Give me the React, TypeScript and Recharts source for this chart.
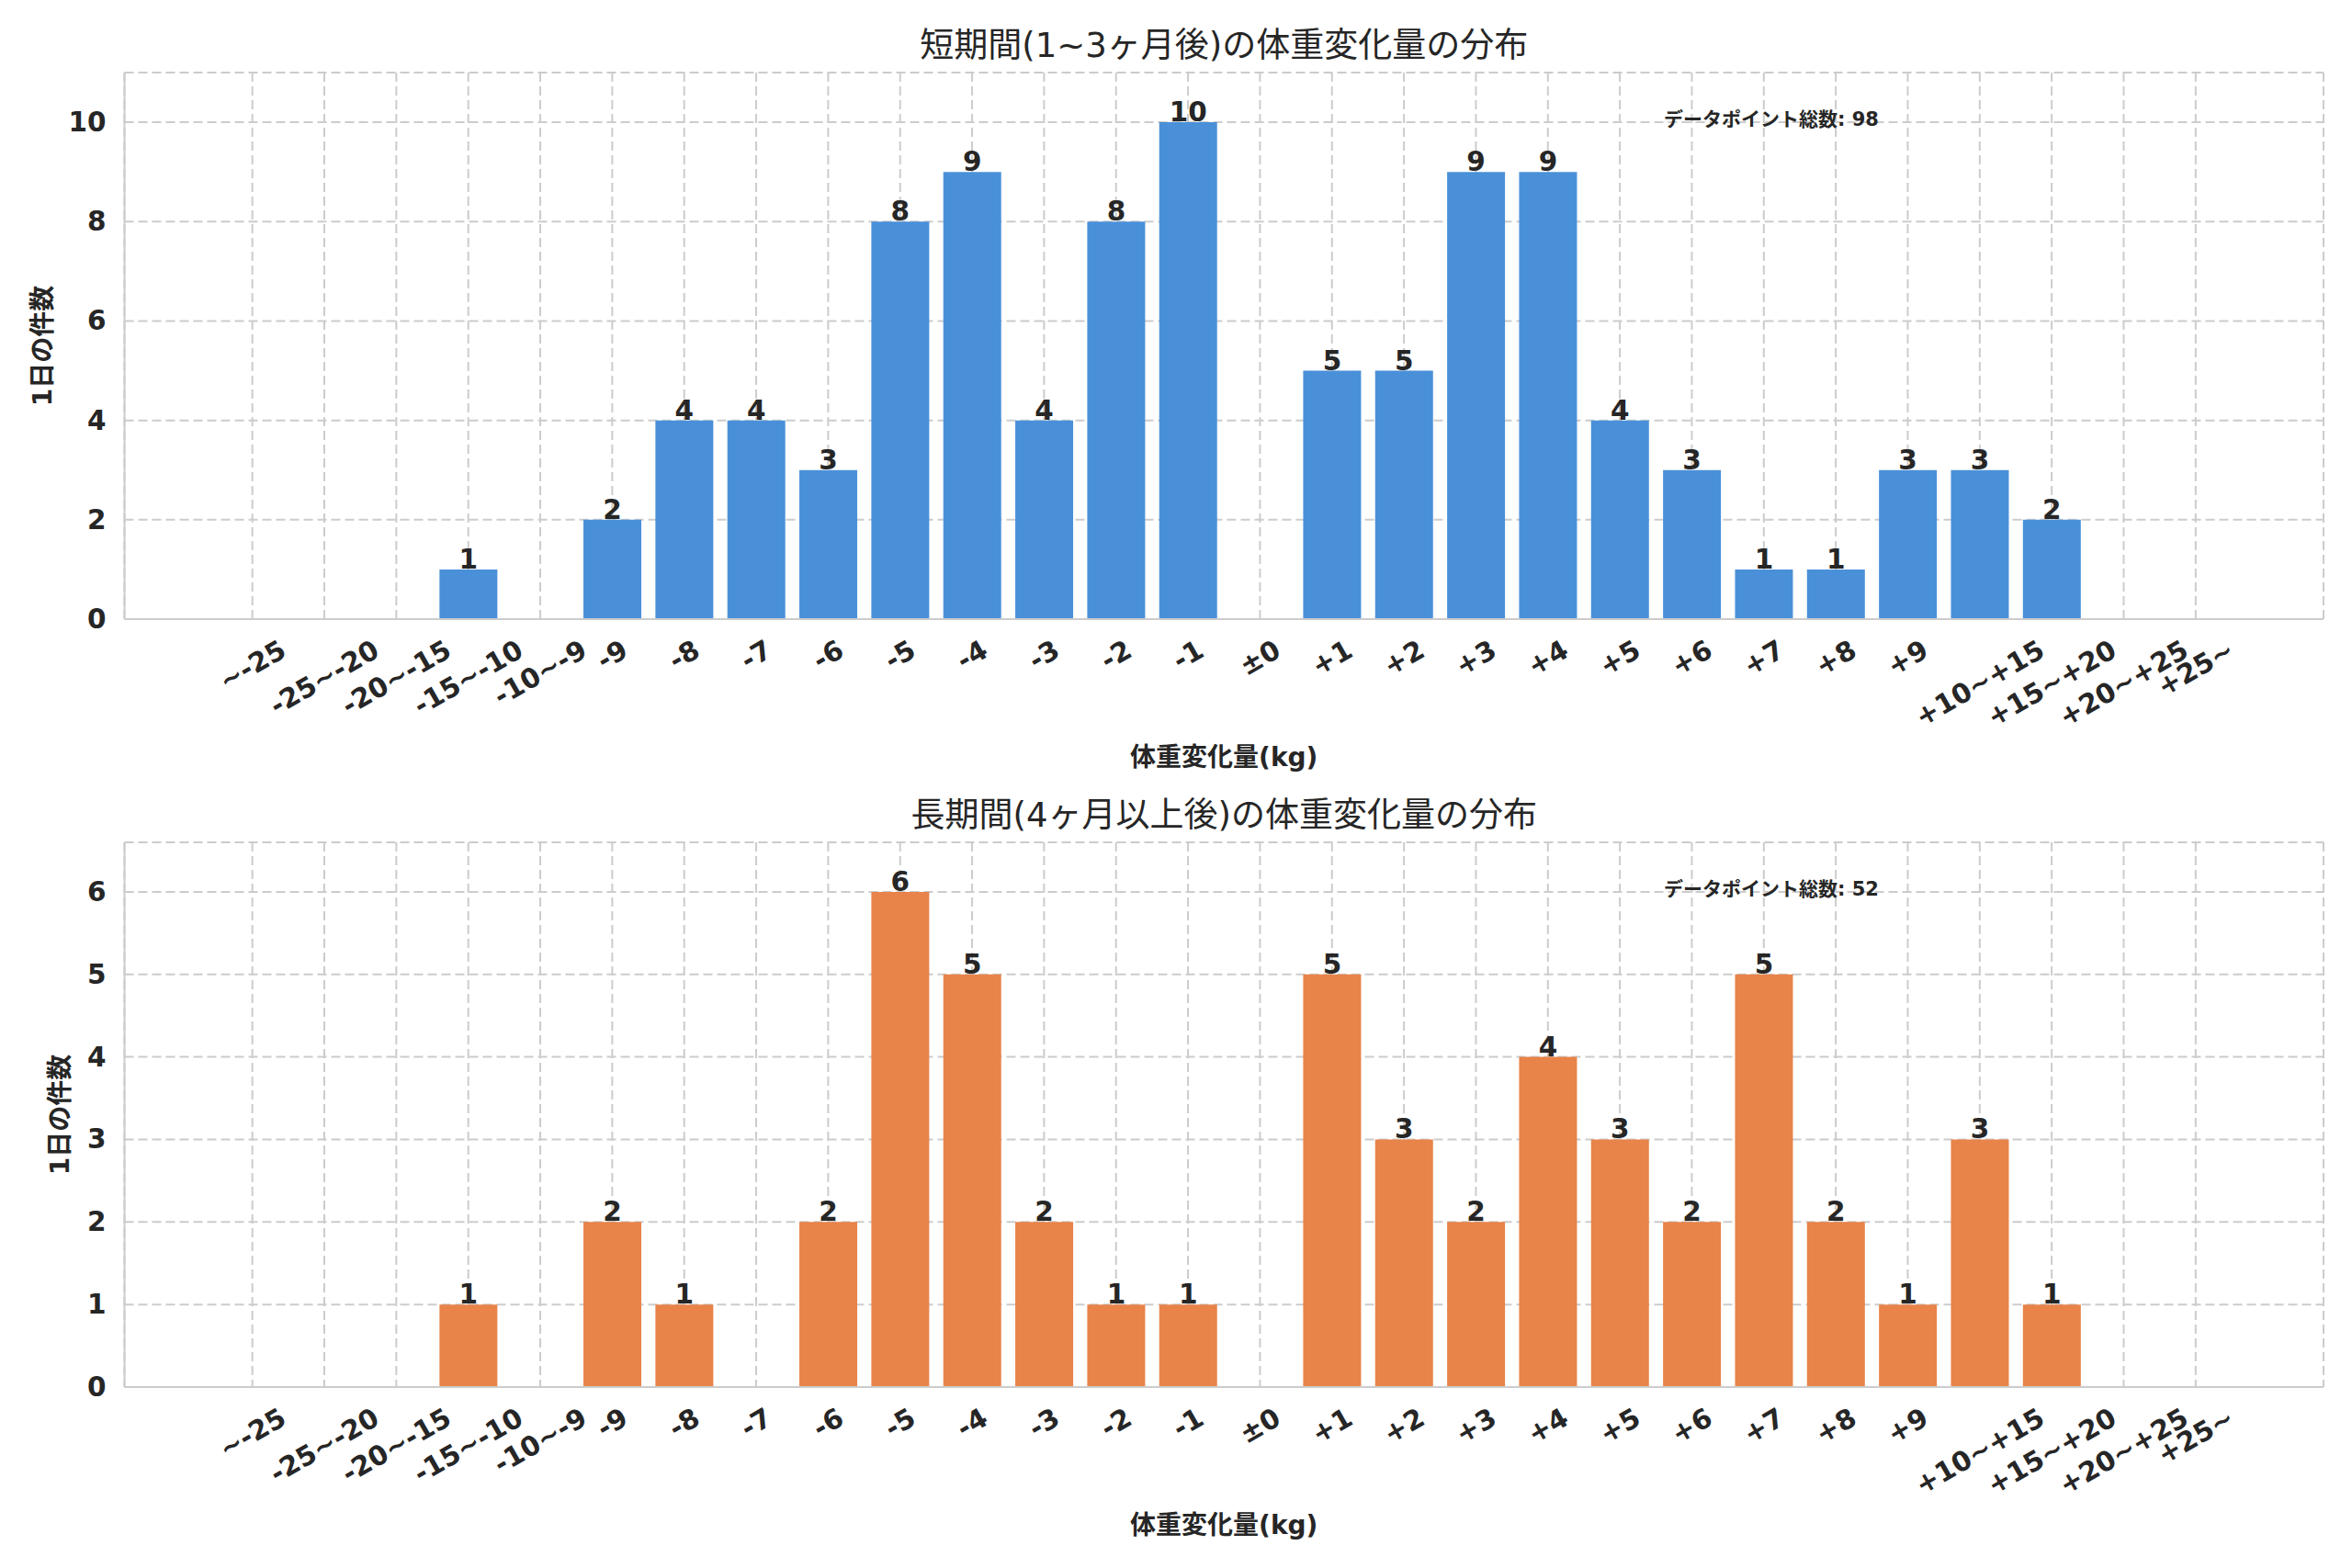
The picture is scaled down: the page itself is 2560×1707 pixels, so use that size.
import React from "react";
import { BarChart, Bar, XAxis, YAxis, CartesianGrid, LabelList, Label } from "recharts";

// bins of weight change (kg)
const categories = [
  "~-25", "-25~-20", "-20~-15", "-15~-10", "-10~-9",
  "-9", "-8", "-7", "-6", "-5", "-4", "-3", "-2", "-1",
  "±0",
  "+1", "+2", "+3", "+4", "+5", "+6", "+7", "+8", "+9",
  "+10~+15", "+15~+20", "+20~+25", "+25~",
];

const shortTermCounts = [0, 0, 0, 1, 0, 2, 4, 4, 3, 8, 9, 4, 8, 10, 0, 5, 5, 9, 9, 4, 3, 1, 1, 3, 3, 2, 0, 0];
const longTermCounts = [0, 0, 0, 1, 0, 2, 1, 0, 2, 6, 5, 2, 1, 1, 0, 5, 3, 2, 4, 3, 2, 5, 2, 1, 3, 1, 0, 0];

const shortTermTicks = [0, 2, 4, 6, 8, 10];
const longTermTicks = [0, 1, 2, 3, 4, 5, 6];

const shortTermTitle = "短期間(1~3ヶ月後)の体重変化量の分布";
const longTermTitle = "長期間(4ヶ月以上後)の体重変化量の分布";
const xLabelText = "体重変化量(kg)";
const yLabelText = "1日の件数";
const totalLabelText = "データポイント総数";

const FONT = "'DejaVu Sans', 'Noto Sans CJK JP', sans-serif";
const INK = "#262626";
const GRID = "#cccccc";

const CHART_W = 2560;
const PLOT_LEFT = 135.5;
const PLOT_RIGHT_MARGIN = 31;
const PLOT_W = CHART_W - PLOT_LEFT - PLOT_RIGHT_MARGIN;

// DejaVu Sans Bold advance widths (em), used to centre rotated tick labels
const charWidth: Record<string, number> = { "-": 0.415, "~": 0.838, "+": 0.838, "±": 0.838 };
const textWidth = (s: string, fs: number) =>
  s.split("").reduce((w, c) => w + (charWidth[c] ?? 0.696), 0) * fs;

const XTick = (props: any) => {
  const { x, y, payload } = props;
  const fs = 29.5;
  const label = String(payload.value);
  const L = textWidth(label, fs);
  const h = 1.164 * fs;
  const H = L * 0.5 + h * 0.866;
  const cy = y + 10 + H / 2;
  return (
    <text
      x={x}
      y={cy}
      textAnchor="middle"
      dominantBaseline="central"
      transform={`rotate(-30, ${x}, ${cy})`}
      fontSize={fs}
      fontWeight="bold"
      fontFamily={FONT}
      fill={INK}
    >
      {label}
    </text>
  );
};

const YTick = (props: any) => {
  const { x, y, payload } = props;
  return (
    <text x={x - 12} y={y} textAnchor="end" dominantBaseline="central" fontSize={29.5} fontWeight="bold" fontFamily={FONT} fill={INK}>
      {payload.value}
    </text>
  );
};

const ValueLabel = (props: any) => {
  const { x, y, width, value } = props;
  if (!value) return null;
  return (
    <text x={x + width / 2} y={y - 1} textAnchor="middle" fontSize={29.5} fontWeight="bold" fontFamily={FONT} fill={INK}>
      {value}
    </text>
  );
};

interface PanelProps {
  values: number[];
  color: string;
  title: string;
  yMax: number;
  yTicks: number[];
  height: number;
  marginTop: number;
  plotHeight: number;
  yLabelX: number;
}

const Panel: React.FC<PanelProps> = ({ values, color, title, yMax, yTicks, height, marginTop, plotHeight, yLabelX }) => {
  const data = categories.map((name, i) => ({ name, count: values[i] }));
  const total = values.reduce((a, b) => a + b, 0);
  const xAxisHeight = height - marginTop - plotHeight;

  return (
    <BarChart
      width={CHART_W}
      height={height}
      data={data}
      margin={{ top: marginTop, right: PLOT_RIGHT_MARGIN, left: 0, bottom: 0 }}
      barCategoryGap="10%"
    >
      <CartesianGrid stroke={GRID} strokeWidth={2} strokeDasharray="10 5" />
      <XAxis
        dataKey="name"
        type="category"
        interval={0}
        tickLine={false}
        tickMargin={0}
        axisLine={{ stroke: GRID, strokeWidth: 2 }}
        padding={{ left: 100, right: 100 }}
        height={xAxisHeight}
        tick={<XTick />}
      >
        <Label
          content={(p: any) => (
            <text
              x={p.viewBox.x + p.viewBox.width / 2}
              y={p.viewBox.y + 150}
              textAnchor="middle"
              dominantBaseline="central"
              fontSize={28}
              fontWeight="bold"
              fontFamily={FONT}
              fill={INK}
            >
              {xLabelText}
            </text>
          )}
        />
      </XAxis>
      <XAxis
        xAxisId="top"
        dataKey="name"
        orientation="top"
        height={0}
        tick={false}
        tickLine={false}
        axisLine={{ stroke: GRID, strokeWidth: 2 }}
      />
      <YAxis
        type="number"
        domain={[0, yMax]}
        ticks={yTicks}
        width={PLOT_LEFT}
        tickLine={false}
        axisLine={{ stroke: GRID, strokeWidth: 2 }}
        tick={<YTick />}
      >
        <Label
          content={(p: any) => {
            const top = p.viewBox.y;
            const cy = top + p.viewBox.height / 2;
            return (
              <g>
                <text
                  x={yLabelX}
                  y={cy}
                  textAnchor="middle"
                  dominantBaseline="central"
                  transform={`rotate(-90, ${yLabelX}, ${cy})`}
                  fontSize={28}
                  fontWeight="bold"
                  fontFamily={FONT}
                  fill={INK}
                >
                  {yLabelText}
                </text>
                <text
                  x={PLOT_LEFT + PLOT_W / 2}
                  y={top - 30}
                  textAnchor="middle"
                  dominantBaseline="central"
                  fontSize={37}
                  fontFamily={FONT}
                  fill={INK}
                >
                  {title}
                </text>
                <text
                  x={PLOT_LEFT + PLOT_W * 0.7}
                  y={top + 51}
                  textAnchor="start"
                  dominantBaseline="central"
                  fontSize={21}
                  fontWeight="bold"
                  fontFamily={FONT}
                  fill={INK}
                >
                  {`${totalLabelText}: ${total}`}
                </text>
              </g>
            );
          }}
        />
      </YAxis>
      <YAxis
        yAxisId="right"
        orientation="right"
        width={0}
        tick={false}
        tickLine={false}
        axisLine={{ stroke: GRID, strokeWidth: 2 }}
      />
      <Bar dataKey="count" fill={color} isAnimationActive={false}>
        <LabelList dataKey="count" content={<ValueLabel />} />
      </Bar>
    </BarChart>
  );
};

export default function App() {
  return (
    <div style={{ position: "absolute", left: 0, top: 0, width: 2560, height: 1707, background: "#ffffff" }}>
      <div style={{ position: "absolute", left: 0, top: 0 }}>
        <Panel
          values={shortTermCounts}
          color="#4A90D9"
          title={shortTermTitle}
          yMax={11}
          yTicks={shortTermTicks}
          height={854}
          marginTop={79}
          plotHeight={595}
          yLabelX={46}
        />
      </div>
      <div style={{ position: "absolute", left: 0, top: 854 }}>
        <Panel
          values={longTermCounts}
          color="#E8834A"
          title={longTermTitle}
          yMax={6.6}
          yTicks={longTermTicks}
          height={853}
          marginTop={63}
          plotHeight={593}
          yLabelX={65}
        />
      </div>
    </div>
  );
}
